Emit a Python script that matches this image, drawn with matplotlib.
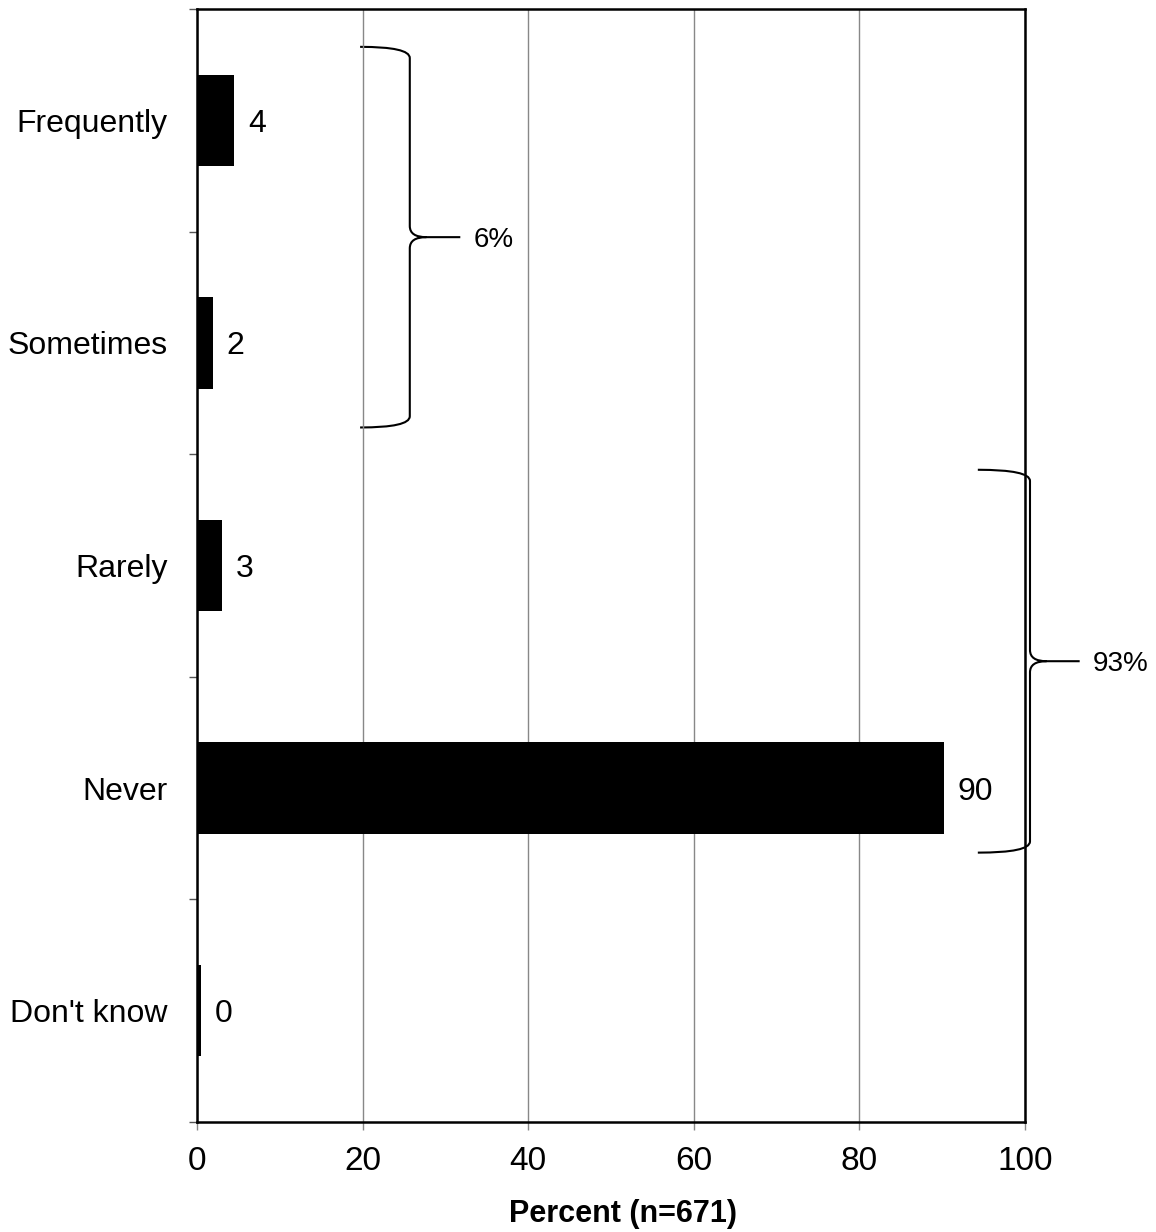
import matplotlib.pyplot as plt
from matplotlib.path import Path
from matplotlib.patches import PathPatch

plt.rcParams['font.family'] = ['Liberation Sans', 'DejaVu Sans']

categories = ["Frequently", "Sometimes", "Rarely", "Never", "Don't know"]
values = [4.5, 1.9, 3.0, 90.2, 0.5]
value_labels = ["4", "2", "3", "90", "0"]
x_ticks = [0, 20, 40, 60, 80, 100]

# brace annotations: (x_arm, x_spine, x_tip, y_top, y_bottom, y_mid, text)
braces = [
    (19.7, 25.7, 31.8, -0.33, 1.38, 0.525, "6%"),
    (94.3, 100.6, 106.6, 1.57, 3.29, 2.43, "93%"),
]


def draw_brace(ax, xa, xs, xt, yt, yb, ym, d=0.05, e=2.0):
    verts = [
        (xa, yt), (xs, yt), (xs, yt + d),
        (xs, ym - d),
        (xs, ym), (xs + e, ym),
        (xt, ym),
        (xs + e, ym), (xs, ym), (xs, ym + d),
        (xs, yb - d),
        (xs, yb), (xa, yb),
    ]
    codes = [
        Path.MOVETO, Path.CURVE3, Path.CURVE3,
        Path.LINETO,
        Path.CURVE3, Path.CURVE3,
        Path.LINETO,
        Path.MOVETO, Path.CURVE3, Path.CURVE3,
        Path.LINETO,
        Path.CURVE3, Path.CURVE3,
    ]
    patch = PathPatch(Path(verts, codes), facecolor="none", edgecolor="black",
                      lw=1.5, clip_on=False)
    ax.add_patch(patch)


fig = plt.figure(figsize=(11.56, 12.32), dpi=100)
ax = fig.add_axes([0.1704, 0.0893, 0.7163, 0.9034])

y = list(range(len(categories)))
ax.barh(y, values, height=0.41, color="black", zorder=3)
for yi, v, lab in zip(y, values, value_labels):
    ax.annotate(lab, (v, yi), xytext=(10, 0), textcoords="offset points",
                va="center_baseline", ha="left", fontsize=23)

ax.set_xlim(0, 100)
ax.set_ylim(len(categories) - 0.5, -0.5)
ax.set_xticks(x_ticks)
ax.set_xticklabels([str(t) for t in x_ticks], fontsize=24)
ax.set_yticks(y)
ax.set_yticklabels(categories, fontsize=23)
ax.set_yticks([i - 0.5 for i in range(len(categories) + 1)], minor=True)
ax.tick_params(axis="y", which="major", length=0, pad=21)
ax.tick_params(axis="y", which="minor", length=6, width=1, color="#555555")
ax.tick_params(axis="x", length=6, width=1, color="#888888", pad=11)
ax.xaxis.grid(True, color="#888888", lw=1, zorder=0)

for s in ax.spines.values():
    s.set_linewidth(1.8)
ax.set_xlabel("Percent (n=671)", fontsize=22, fontweight="bold")
ax.xaxis.set_label_coords(0.5145, -0.069)

for xa, xs, xt, yt, yb, ym, txt in braces:
    draw_brace(ax, xa, xs, xt, yt, yb, ym)
    ax.text(xt + 1.6, ym, txt, va="center_baseline", ha="left", fontsize=20)

fig.savefig("out.png", dpi=100)
